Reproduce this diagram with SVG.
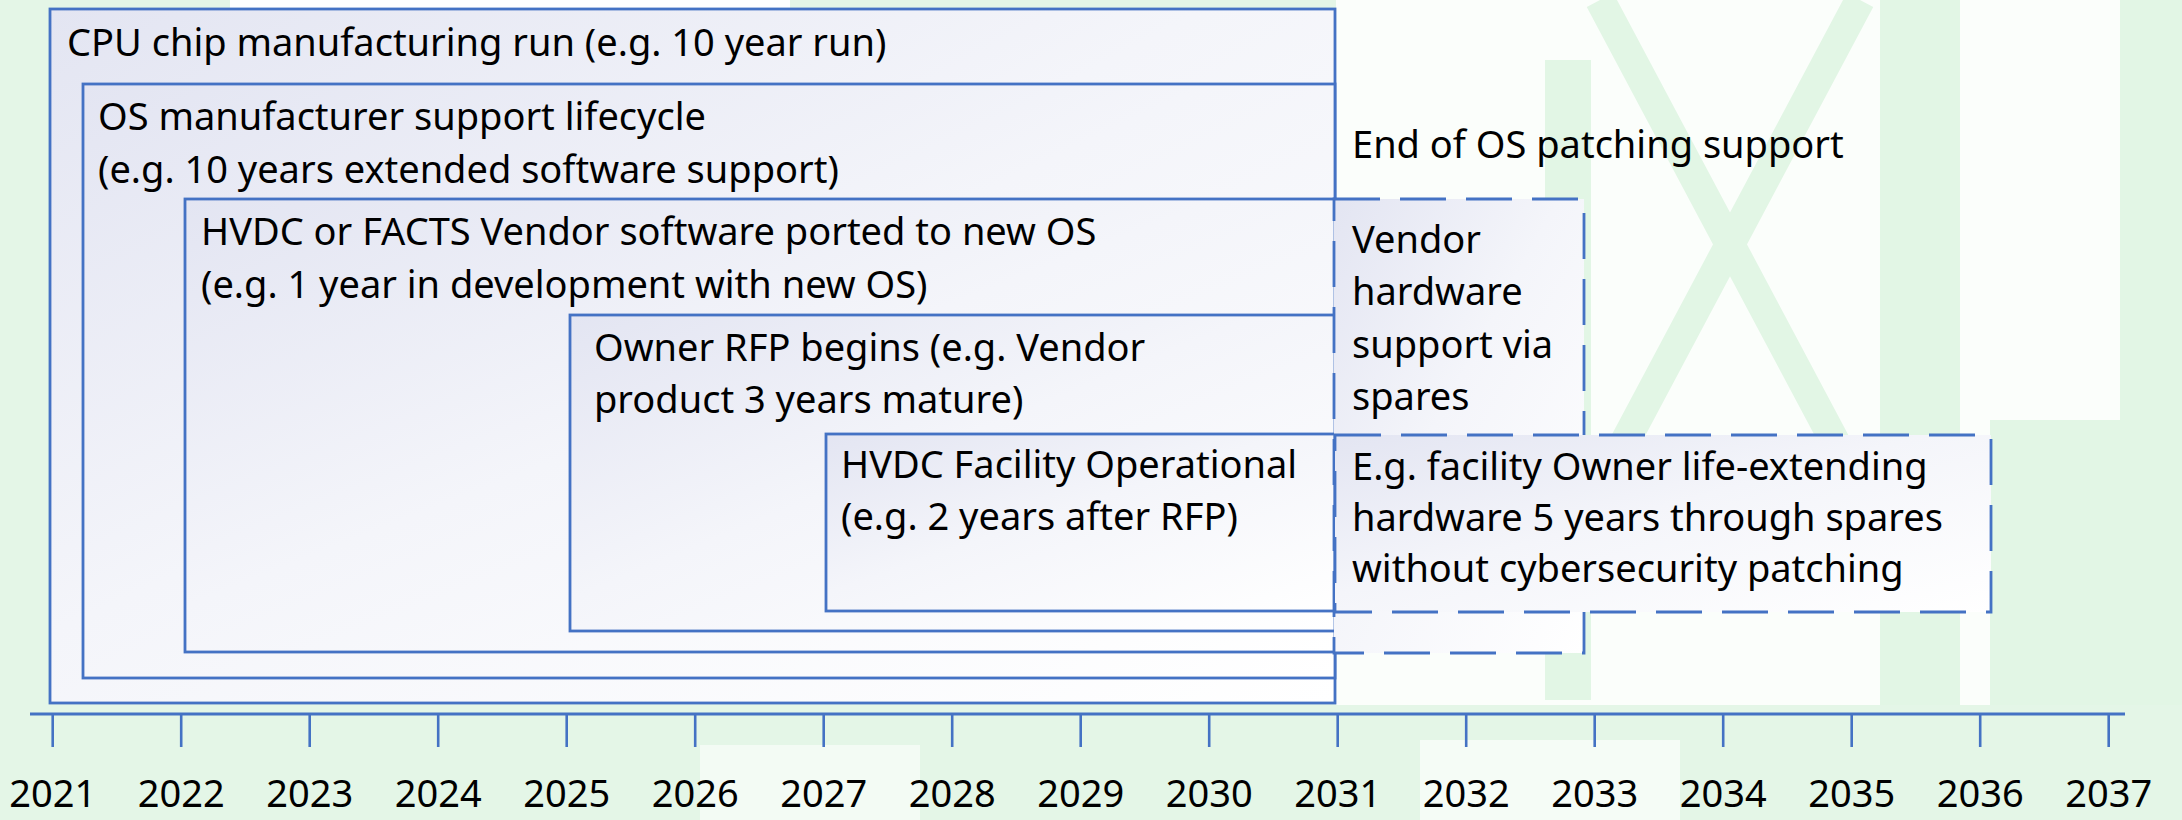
<svg xmlns="http://www.w3.org/2000/svg" width="2182" height="820" viewBox="0 0 2182 820">
<style>
  .box { fill: url(#boxfill); stroke: #4472c4; stroke-width: 2.8; }
  .dash { fill: url(#boxfill); stroke: #4472c4; stroke-width: 2.8; stroke-dasharray: 46 20; }
  .lbl { font-family: "Noto Sans", "Open Sans", sans-serif; font-size: 38px; fill: #000; }
  .yr { font-family: "Noto Sans", "Open Sans", sans-serif; font-size: 38px; fill: #000; text-anchor: middle; }
  .axis { stroke: #4472c4; stroke-width: 3; fill: none; }
  .tick { stroke: #4472c4; stroke-width: 2.6; }
  .wm { fill: #e2f6e5; }
  .wml { stroke: #e2f6e5; fill: none; }
</style>
<defs>
  <linearGradient id="boxfill" x1="0" y1="0" x2="1" y2="1">
    <stop offset="0" stop-color="#e3e5f2"/>
    <stop offset="0.45" stop-color="#f4f5fa"/>
    <stop offset="1" stop-color="#ffffff"/>
  </linearGradient>
</defs>

<g id="background">
  <rect x="0" y="0" width="2182" height="820" fill="#e4f6e7"/>
  <rect x="230" y="0" width="560" height="12" fill="#ffffff"/>
  <rect x="1336" y="0" width="846" height="705" fill="#fbfefb"/>
  <path class="wml" stroke-width="30" d="M1600,0 L1850,470 M1860,0 L1610,470"/>
  <rect class="wm" x="1545" y="60" width="46" height="640"/>
  <rect class="wm" x="1880" y="0" width="80" height="705"/>
  <rect class="wm" x="2120" y="0" width="62" height="705"/>
  <rect class="wm" x="1990" y="420" width="200" height="285"/>
  <rect x="0" y="705" width="2182" height="115" fill="#e4f6e7"/>
  <rect x="700" y="745" width="220" height="75" fill="#f3fbf4"/>
  <rect x="1420" y="740" width="260" height="80" fill="#f5fcf6"/>
</g>

<g id="cpu-run">
  <rect class="box" x="50" y="9" width="1285" height="694"/>
  <text class="lbl" x="67" y="56">CPU chip manufacturing run (e.g. 10 year run)</text>
</g>

<g id="os-lifecycle">
  <rect class="box" x="83" y="84" width="1252" height="594"/>
  <text class="lbl" x="98" y="130">OS manufacturer support lifecycle</text>
  <text class="lbl" x="98" y="183">(e.g. 10 years extended software support)</text>
</g>

<g id="vendor-port">
  <rect class="box" x="185" y="199" width="1150" height="453"/>
  <text class="lbl" x="201" y="245">HVDC or FACTS Vendor software ported to new OS</text>
  <text class="lbl" x="201" y="298">(e.g. 1 year in development with new OS)</text>
</g>

<g id="owner-rfp">
  <rect class="box" x="570" y="315" width="765" height="316"/>
  <text class="lbl" x="594" y="361">Owner RFP begins (e.g. Vendor</text>
  <text class="lbl" x="594" y="413">product 3 years mature)</text>
</g>

<g id="facility-operational">
  <rect class="box" x="826" y="434" width="509" height="177"/>
  <text class="lbl" x="841" y="478">HVDC Facility Operational</text>
  <text class="lbl" x="841" y="530">(e.g. 2 years after RFP)</text>
</g>

<g id="vendor-spares">
  <rect class="dash" x="1334" y="199" width="250" height="454"/>
  <text class="lbl" x="1352" y="253">Vendor</text>
  <text class="lbl" x="1352" y="305">hardware</text>
  <text class="lbl" x="1352" y="358">support via</text>
  <text class="lbl" x="1352" y="410">spares</text>
</g>

<g id="life-extending">
  <rect class="dash" x="1335" y="435" width="656" height="177"/>
  <text class="lbl" x="1352" y="480">E.g. facility Owner life-extending</text>
  <text class="lbl" x="1352" y="531">hardware 5 years through spares</text>
  <text class="lbl" x="1352" y="582">without cybersecurity patching</text>
</g>

<g id="end-of-os-patching">
  <text class="lbl" x="1352" y="158">End of OS patching support</text>
</g>

<g id="timeline">
  <line class="axis" x1="30" y1="714" x2="2125" y2="714"/>
  <g class="tick">
    <line x1="52.7" y1="714" x2="52.7" y2="747"/>
    <line x1="181.2" y1="714" x2="181.2" y2="747"/>
    <line x1="309.7" y1="714" x2="309.7" y2="747"/>
    <line x1="438.2" y1="714" x2="438.2" y2="747"/>
    <line x1="566.7" y1="714" x2="566.7" y2="747"/>
    <line x1="695.2" y1="714" x2="695.2" y2="747"/>
    <line x1="823.7" y1="714" x2="823.7" y2="747"/>
    <line x1="952.2" y1="714" x2="952.2" y2="747"/>
    <line x1="1080.7" y1="714" x2="1080.7" y2="747"/>
    <line x1="1209.2" y1="714" x2="1209.2" y2="747"/>
    <line x1="1337.7" y1="714" x2="1337.7" y2="747"/>
    <line x1="1466.2" y1="714" x2="1466.2" y2="747"/>
    <line x1="1594.7" y1="714" x2="1594.7" y2="747"/>
    <line x1="1723.2" y1="714" x2="1723.2" y2="747"/>
    <line x1="1851.7" y1="714" x2="1851.7" y2="747"/>
    <line x1="1980.2" y1="714" x2="1980.2" y2="747"/>
    <line x1="2108.7" y1="714" x2="2108.7" y2="747"/>
  </g>
  <text class="yr" x="52.7" y="807">2021</text>
  <text class="yr" x="181.2" y="807">2022</text>
  <text class="yr" x="309.7" y="807">2023</text>
  <text class="yr" x="438.2" y="807">2024</text>
  <text class="yr" x="566.7" y="807">2025</text>
  <text class="yr" x="695.2" y="807">2026</text>
  <text class="yr" x="823.7" y="807">2027</text>
  <text class="yr" x="952.2" y="807">2028</text>
  <text class="yr" x="1080.7" y="807">2029</text>
  <text class="yr" x="1209.2" y="807">2030</text>
  <text class="yr" x="1337.7" y="807">2031</text>
  <text class="yr" x="1466.2" y="807">2032</text>
  <text class="yr" x="1594.7" y="807">2033</text>
  <text class="yr" x="1723.2" y="807">2034</text>
  <text class="yr" x="1851.7" y="807">2035</text>
  <text class="yr" x="1980.2" y="807">2036</text>
  <text class="yr" x="2108.7" y="807">2037</text>
</g>
</svg>
